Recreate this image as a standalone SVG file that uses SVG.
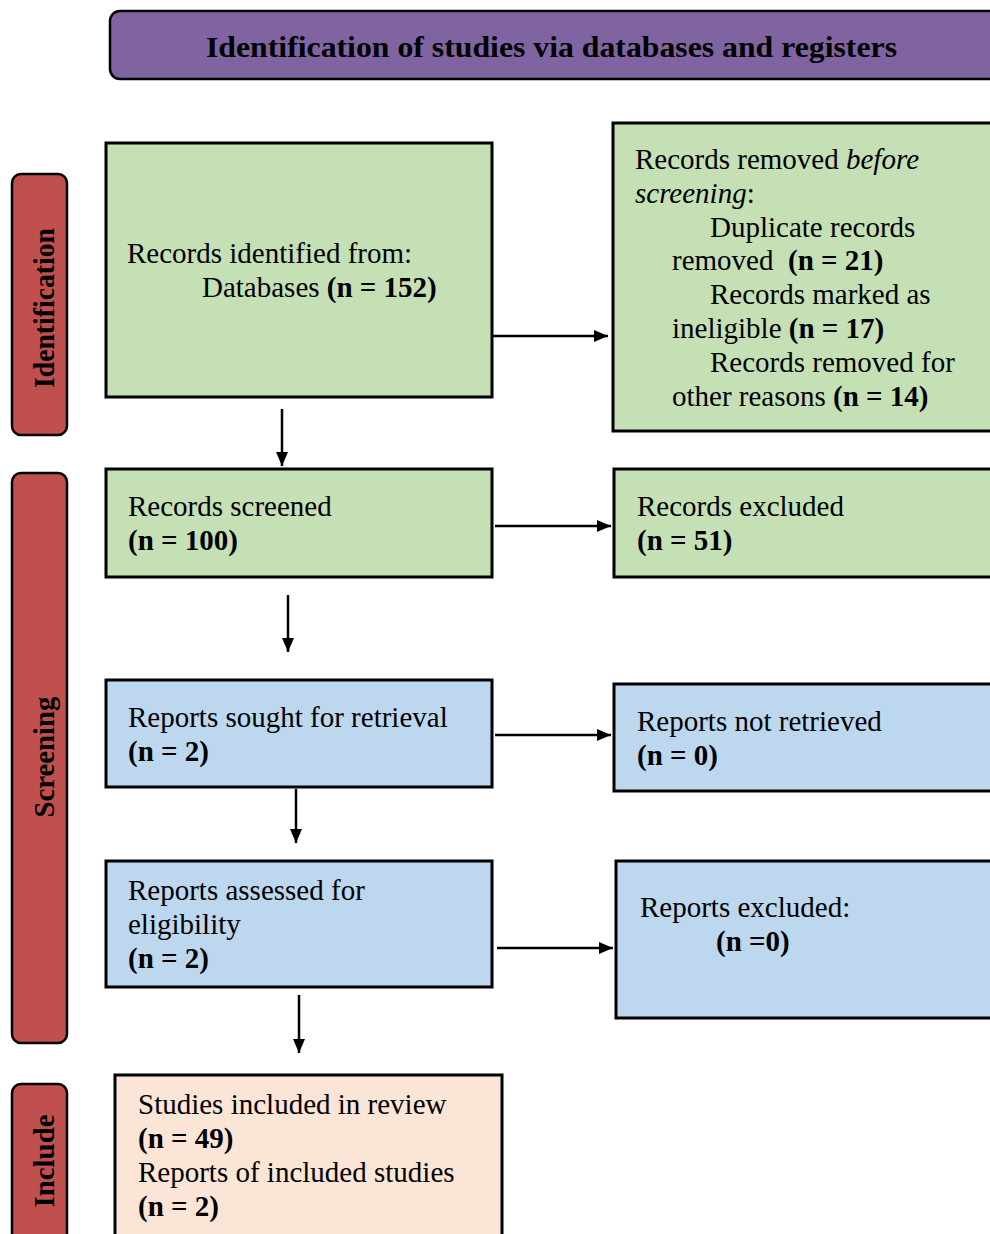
<svg xmlns="http://www.w3.org/2000/svg" width="990" height="1234" viewBox="0 0 990 1234">
<style>
text{font-family:"Liberation Serif","Times New Roman",serif;font-size:29px;fill:#000}
.b{font-weight:bold}
.i{font-style:italic}
.side{fill:#C0504D;stroke:#000;stroke-width:2.5}
.g{fill:#C5E0B4;stroke:#000;stroke-width:3}
.bl{fill:#BDD7EE;stroke:#000;stroke-width:3}
.pk{fill:#FBE5D6;stroke:#000;stroke-width:3}
.lab{font-weight:bold;font-size:29px}
.conn line{stroke:#000;stroke-width:2.5}
</style>
<defs>
<marker id="ah" viewBox="0 0 14 12" refX="14" refY="6" markerWidth="14" markerHeight="12" markerUnits="userSpaceOnUse" orient="auto">
<path d="M0,0 L14,6 L0,12 z" fill="#000"/>
</marker>
</defs>
<rect width="990" height="1234" fill="#fff"/>
<g id="title">
<rect x="110" y="11" width="900" height="68" rx="10" fill="#8064A2" stroke="#000" stroke-width="2.5"/>
<text x="206" y="57" class="b" font-size="34" textLength="691" lengthAdjust="spacingAndGlyphs">Identification of studies via databases and registers</text>
</g>
<g id="lab-identification">
<rect x="12" y="174" width="55" height="261" rx="9" class="side"/>
<text transform="translate(54,308) rotate(-90)" text-anchor="middle" class="lab" textLength="160" lengthAdjust="spacingAndGlyphs">Identification</text>
</g>
<g id="lab-screening">
<rect x="12" y="473" width="55" height="570" rx="9" class="side"/>
<text transform="translate(54,757) rotate(-90)" text-anchor="middle" class="lab" textLength="121" lengthAdjust="spacingAndGlyphs">Screening</text>
</g>
<g id="lab-include">
<rect x="12" y="1084" width="55" height="170" rx="9" class="side"/>
<text transform="translate(54,1161) rotate(-90)" text-anchor="middle" class="lab" textLength="93" lengthAdjust="spacingAndGlyphs">Include</text>
</g>
<g id="n-identified">
<rect x="106" y="143" width="386" height="254" class="g" stroke-width="2"/>
<text x="127" y="263">Records identified from:</text>
<text x="202" y="297">Databases <tspan class="b">(n = 152)</tspan></text>
</g>
<g id="n-removed">
<rect x="613" y="123" width="400" height="308" class="g"/>
<text x="635" y="169">Records removed <tspan class="i">before</tspan></text>
<text x="635" y="203"><tspan class="i">screening</tspan>:</text>
<text x="710" y="237">Duplicate records</text>
<text x="672" y="270">removed&#160; <tspan class="b">(n = 21)</tspan></text>
<text x="710" y="304">Records marked as</text>
<text x="672" y="338">ineligible <tspan class="b">(n = 17)</tspan></text>
<text x="710" y="372">Records removed for</text>
<text x="672" y="406">other reasons <tspan class="b">(n = 14)</tspan></text>
</g>
<g id="n-screened">
<rect x="106" y="469" width="386" height="108" class="g"/>
<text x="128" y="516">Records screened</text>
<text x="128" y="550" class="b">(n = 100)</text>
</g>
<g id="n-excluded">
<rect x="614" y="469" width="400" height="108" class="g"/>
<text x="637" y="516">Records excluded</text>
<text x="637" y="550" class="b">(n = 51)</text>
</g>
<g id="n-sought">
<rect x="106" y="680" width="386" height="107" class="bl"/>
<text x="128" y="727">Reports sought for retrieval</text>
<text x="128" y="761" class="b">(n = 2)</text>
</g>
<g id="n-notretrieved">
<rect x="614" y="684" width="400" height="107" class="bl"/>
<text x="637" y="731">Reports not retrieved</text>
<text x="637" y="765" class="b">(n = 0)</text>
</g>
<g id="n-assessed">
<rect x="106" y="861" width="386" height="126" class="bl"/>
<text x="128" y="900">Reports assessed for</text>
<text x="128" y="934">eligibility</text>
<text x="128" y="968" class="b">(n = 2)</text>
</g>
<g id="n-repexcluded">
<rect x="616" y="861" width="400" height="157" class="bl"/>
<text x="640" y="917">Reports excluded:</text>
<text x="716" y="951" class="b">(n =0)</text>
</g>
<g id="n-included">
<rect x="115" y="1075" width="387" height="180" class="pk"/>
<text x="138" y="1114">Studies included in review</text>
<text x="138" y="1148" class="b">(n = 49)</text>
<text x="138" y="1182">Reports of included studies</text>
<text x="138" y="1216" class="b">(n = 2)</text>
</g>
<g id="connectors" class="conn">
<line x1="493" y1="336" x2="608" y2="336" marker-end="url(#ah)"/>
<line x1="282" y1="409" x2="282" y2="466" marker-end="url(#ah)"/>
<line x1="495" y1="526" x2="611" y2="526" marker-end="url(#ah)"/>
<line x1="288" y1="595" x2="288" y2="652" marker-end="url(#ah)"/>
<line x1="495" y1="735" x2="611" y2="735" marker-end="url(#ah)"/>
<line x1="296" y1="789" x2="296" y2="843" marker-end="url(#ah)"/>
<line x1="497" y1="948" x2="613" y2="948" marker-end="url(#ah)"/>
<line x1="299" y1="995" x2="299" y2="1053" marker-end="url(#ah)"/>
</g>
</svg>
